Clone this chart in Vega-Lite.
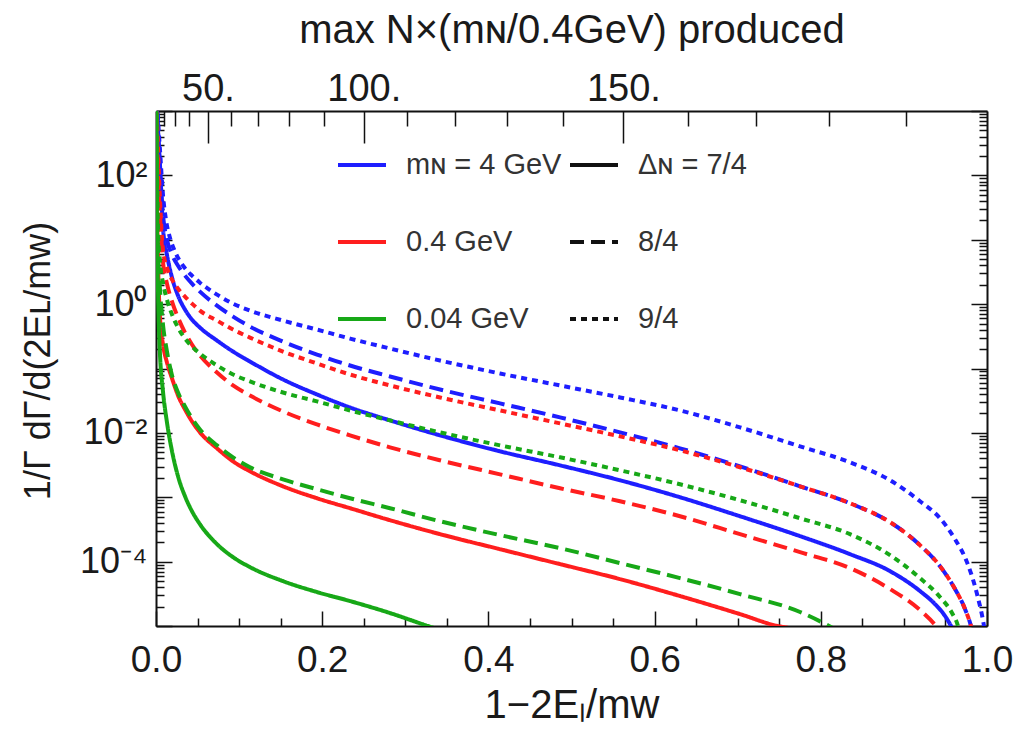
{
  "$schema": "https://vega.github.io/schema/vega-lite/v6.json",
  "width": 831,
  "height": 515,
  "autosize": "none",
  "padding": {"left": 156, "top": 111, "right": 31, "bottom": 115},
  "background": "white",
  "config": {
    "view": {"stroke": null},
    "font": "Liberation Sans",
    "axis": {
      "domainColor": "#111111", "domainWidth": 2,
      "tickColor": "#111111", "tickWidth": 1.5,
      "labelColor": "#1a1a1a", "titleColor": "#1a1a1a",
      "titleFontWeight": "normal", "grid": false,
      "labelOverlap": false, "labelFlush": false, "labelBound": false,
      "labelFont": "Liberation Sans", "titleFont": "Liberation Sans"
    },
    "legend": {
      "labelFont": "Liberation Sans", "labelFontSize": 29, "labelColor": "#333333",
      "symbolType": "stroke", "symbolSize": 2304, "symbolStrokeWidth": 4,
      "rowPadding": 36, "labelOffset": 18, "padding": 0, "title": null
    }
  },
  "datasets": {
    "curves": [
      {"mass": 4, "delta": "9/4", "x": 0.0003, "y": 2000},
      {"mass": 4, "delta": "9/4", "x": 0.0048, "y": 248},
      {"mass": 4, "delta": "9/4", "x": 0.0084, "y": 49.9},
      {"mass": 4, "delta": "9/4", "x": 0.012, "y": 20.4},
      {"mass": 4, "delta": "9/4", "x": 0.0168, "y": 10.74},
      {"mass": 4, "delta": "9/4", "x": 0.0229, "y": 6.52},
      {"mass": 4, "delta": "9/4", "x": 0.0325, "y": 3.95},
      {"mass": 4, "delta": "9/4", "x": 0.0433, "y": 2.77},
      {"mass": 4, "delta": "9/4", "x": 0.0529, "y": 2.154},
      {"mass": 4, "delta": "9/4", "x": 0.0734, "y": 1.404},
      {"mass": 4, "delta": "9/4", "x": 0.0927, "y": 1.018},
      {"mass": 4, "delta": "9/4", "x": 0.1131, "y": 0.793},
      {"mass": 4, "delta": "9/4", "x": 0.1528, "y": 0.555},
      {"mass": 4, "delta": "9/4", "x": 0.1937, "y": 0.4025},
      {"mass": 4, "delta": "9/4", "x": 0.2335, "y": 0.2918},
      {"mass": 4, "delta": "9/4", "x": 0.2816, "y": 0.2042},
      {"mass": 4, "delta": "9/4", "x": 0.3418, "y": 0.133},
      {"mass": 4, "delta": "9/4", "x": 0.414, "y": 0.0837},
      {"mass": 4, "delta": "9/4", "x": 0.4862, "y": 0.0545},
      {"mass": 4, "delta": "9/4", "x": 0.5584, "y": 0.0355},
      {"mass": 4, "delta": "9/4", "x": 0.6306, "y": 0.0223},
      {"mass": 4, "delta": "9/4", "x": 0.7028, "y": 0.01217},
      {"mass": 4, "delta": "9/4", "x": 0.775, "y": 0.00618},
      {"mass": 4, "delta": "9/4", "x": 0.8351, "y": 0.00349},
      {"mass": 4, "delta": "9/4", "x": 0.8833, "y": 0.001835},
      {"mass": 4, "delta": "9/4", "x": 0.9194, "y": 0.000867},
      {"mass": 4, "delta": "9/4", "x": 0.9434, "y": 0.000472},
      {"mass": 4, "delta": "9/4", "x": 0.9615, "y": 0.000223},
      {"mass": 4, "delta": "9/4", "x": 0.9759, "y": 0.0000982},
      {"mass": 4, "delta": "9/4", "x": 0.988, "y": 0.0000313},
      {"mass": 4, "delta": "9/4", "x": 0.9964, "y": 0.00001},
      {"mass": 4, "delta": "9/4", "x": 0.9988, "y": 0.0000063},

      {"mass": 4, "delta": "8/4", "x": 0.0003, "y": 2000},
      {"mass": 4, "delta": "8/4", "x": 0.0048, "y": 121.7},
      {"mass": 4, "delta": "8/4", "x": 0.0084, "y": 24.4},
      {"mass": 4, "delta": "8/4", "x": 0.0132, "y": 10},
      {"mass": 4, "delta": "8/4", "x": 0.0193, "y": 5.85},
      {"mass": 4, "delta": "8/4", "x": 0.0265, "y": 3.95},
      {"mass": 4, "delta": "8/4", "x": 0.0349, "y": 2.77},
      {"mass": 4, "delta": "8/4", "x": 0.0433, "y": 2.079},
      {"mass": 4, "delta": "8/4", "x": 0.0529, "y": 1.562},
      {"mass": 4, "delta": "8/4", "x": 0.0734, "y": 0.948},
      {"mass": 4, "delta": "8/4", "x": 0.0927, "y": 0.64},
      {"mass": 4, "delta": "8/4", "x": 0.1131, "y": 0.448},
      {"mass": 4, "delta": "8/4", "x": 0.1528, "y": 0.2622},
      {"mass": 4, "delta": "8/4", "x": 0.1937, "y": 0.1649},
      {"mass": 4, "delta": "8/4", "x": 0.2335, "y": 0.1113},
      {"mass": 4, "delta": "8/4", "x": 0.2816, "y": 0.0752},
      {"mass": 4, "delta": "8/4", "x": 0.3418, "y": 0.0472},
      {"mass": 4, "delta": "8/4", "x": 0.414, "y": 0.0287},
      {"mass": 4, "delta": "8/4", "x": 0.4862, "y": 0.0174},
      {"mass": 4, "delta": "8/4", "x": 0.5584, "y": 0.01018},
      {"mass": 4, "delta": "8/4", "x": 0.6306, "y": 0.00575},
      {"mass": 4, "delta": "8/4", "x": 0.7028, "y": 0.00302},
      {"mass": 4, "delta": "8/4", "x": 0.775, "y": 0.00148},
      {"mass": 4, "delta": "8/4", "x": 0.8351, "y": 0.000807},
      {"mass": 4, "delta": "8/4", "x": 0.8833, "y": 0.00041},
      {"mass": 4, "delta": "8/4", "x": 0.9194, "y": 0.00018},
      {"mass": 4, "delta": "8/4", "x": 0.9434, "y": 0.0000852},
      {"mass": 4, "delta": "8/4", "x": 0.9615, "y": 0.0000375},
      {"mass": 4, "delta": "8/4", "x": 0.9735, "y": 0.0000184},
      {"mass": 4, "delta": "8/4", "x": 0.9807, "y": 0.00001},
      {"mass": 4, "delta": "8/4", "x": 0.9844, "y": 0.0000063},

      {"mass": 4, "delta": "7/4", "x": 0.0003, "y": 2000},
      {"mass": 4, "delta": "7/4", "x": 0.0024, "y": 507},
      {"mass": 4, "delta": "7/4", "x": 0.0048, "y": 145.5},
      {"mass": 4, "delta": "7/4", "x": 0.0084, "y": 15.35},
      {"mass": 4, "delta": "7/4", "x": 0.0132, "y": 5.85},
      {"mass": 4, "delta": "7/4", "x": 0.0193, "y": 2.58},
      {"mass": 4, "delta": "7/4", "x": 0.0265, "y": 1.354},
      {"mass": 4, "delta": "7/4", "x": 0.0349, "y": 0.822},
      {"mass": 4, "delta": "7/4", "x": 0.0433, "y": 0.575},
      {"mass": 4, "delta": "7/4", "x": 0.0529, "y": 0.432},
      {"mass": 4, "delta": "7/4", "x": 0.0734, "y": 0.2717},
      {"mass": 4, "delta": "7/4", "x": 0.0927, "y": 0.1835},
      {"mass": 4, "delta": "7/4", "x": 0.1131, "y": 0.1284},
      {"mass": 4, "delta": "7/4", "x": 0.1528, "y": 0.0676},
      {"mass": 4, "delta": "7/4", "x": 0.1937, "y": 0.0395},
      {"mass": 4, "delta": "7/4", "x": 0.2335, "y": 0.0248},
      {"mass": 4, "delta": "7/4", "x": 0.2816, "y": 0.01562},
      {"mass": 4, "delta": "7/4", "x": 0.3418, "y": 0.00915},
      {"mass": 4, "delta": "7/4", "x": 0.414, "y": 0.00517},
      {"mass": 4, "delta": "7/4", "x": 0.4862, "y": 0.00313},
      {"mass": 4, "delta": "7/4", "x": 0.5584, "y": 0.001835},
      {"mass": 4, "delta": "7/4", "x": 0.6306, "y": 0.001},
      {"mass": 4, "delta": "7/4", "x": 0.7028, "y": 0.000507},
      {"mass": 4, "delta": "7/4", "x": 0.775, "y": 0.000249},
      {"mass": 4, "delta": "7/4", "x": 0.8351, "y": 0.0001307},
      {"mass": 4, "delta": "7/4", "x": 0.8833, "y": 0.0000712},
      {"mass": 4, "delta": "7/4", "x": 0.9194, "y": 0.0000349},
      {"mass": 4, "delta": "7/4", "x": 0.9374, "y": 0.0000219},
      {"mass": 4, "delta": "7/4", "x": 0.9495, "y": 0.0000143},
      {"mass": 4, "delta": "7/4", "x": 0.9567, "y": 0.00001},
      {"mass": 4, "delta": "7/4", "x": 0.9615, "y": 0.0000075},

      {"mass": 0.4, "delta": "9/4", "x": 0.0003, "y": 2000},
      {"mass": 0.4, "delta": "9/4", "x": 0.0048, "y": 41.7},
      {"mass": 0.4, "delta": "9/4", "x": 0.0084, "y": 7},
      {"mass": 0.4, "delta": "9/4", "x": 0.0132, "y": 3.68},
      {"mass": 0.4, "delta": "9/4", "x": 0.0193, "y": 2.4},
      {"mass": 0.4, "delta": "9/4", "x": 0.0265, "y": 1.739},
      {"mass": 0.4, "delta": "9/4", "x": 0.0349, "y": 1.307},
      {"mass": 0.4, "delta": "9/4", "x": 0.0433, "y": 1.018},
      {"mass": 0.4, "delta": "9/4", "x": 0.0529, "y": 0.793},
      {"mass": 0.4, "delta": "9/4", "x": 0.0734, "y": 0.555},
      {"mass": 0.4, "delta": "9/4", "x": 0.0927, "y": 0.4025},
      {"mass": 0.4, "delta": "9/4", "x": 0.1131, "y": 0.3024},
      {"mass": 0.4, "delta": "9/4", "x": 0.1528, "y": 0.1835},
      {"mass": 0.4, "delta": "9/4", "x": 0.1937, "y": 0.1196},
      {"mass": 0.4, "delta": "9/4", "x": 0.2335, "y": 0.0807},
      {"mass": 0.4, "delta": "9/4", "x": 0.2816, "y": 0.0545},
      {"mass": 0.4, "delta": "9/4", "x": 0.3418, "y": 0.0355},
      {"mass": 0.4, "delta": "9/4", "x": 0.414, "y": 0.0223},
      {"mass": 0.4, "delta": "9/4", "x": 0.4862, "y": 0.01404},
      {"mass": 0.4, "delta": "9/4", "x": 0.5584, "y": 0.00883},
      {"mass": 0.4, "delta": "9/4", "x": 0.6306, "y": 0.00535},
      {"mass": 0.4, "delta": "9/4", "x": 0.7028, "y": 0.00292},
      {"mass": 0.4, "delta": "9/4", "x": 0.775, "y": 0.00148},
      {"mass": 0.4, "delta": "9/4", "x": 0.8351, "y": 0.000807},
      {"mass": 0.4, "delta": "9/4", "x": 0.8833, "y": 0.00041},
      {"mass": 0.4, "delta": "9/4", "x": 0.9194, "y": 0.00018},
      {"mass": 0.4, "delta": "9/4", "x": 0.9434, "y": 0.0000852},
      {"mass": 0.4, "delta": "9/4", "x": 0.9615, "y": 0.0000375},
      {"mass": 0.4, "delta": "9/4", "x": 0.9735, "y": 0.0000184},
      {"mass": 0.4, "delta": "9/4", "x": 0.9807, "y": 0.00001},
      {"mass": 0.4, "delta": "9/4", "x": 0.9844, "y": 0.0000063},

      {"mass": 0.4, "delta": "8/4", "x": 0.0003, "y": 2000},
      {"mass": 0.4, "delta": "8/4", "x": 0.0024, "y": 121.7},
      {"mass": 0.4, "delta": "8/4", "x": 0.0048, "y": 24.4},
      {"mass": 0.4, "delta": "8/4", "x": 0.0084, "y": 4.56},
      {"mass": 0.4, "delta": "8/4", "x": 0.0132, "y": 2.079},
      {"mass": 0.4, "delta": "8/4", "x": 0.0193, "y": 1.093},
      {"mass": 0.4, "delta": "8/4", "x": 0.0265, "y": 0.618},
      {"mass": 0.4, "delta": "8/4", "x": 0.0349, "y": 0.361},
      {"mass": 0.4, "delta": "8/4", "x": 0.0433, "y": 0.2356},
      {"mass": 0.4, "delta": "8/4", "x": 0.0529, "y": 0.1591},
      {"mass": 0.4, "delta": "8/4", "x": 0.0734, "y": 0.0867},
      {"mass": 0.4, "delta": "8/4", "x": 0.0927, "y": 0.0545},
      {"mass": 0.4, "delta": "8/4", "x": 0.1131, "y": 0.0381},
      {"mass": 0.4, "delta": "8/4", "x": 0.1528, "y": 0.02154},
      {"mass": 0.4, "delta": "8/4", "x": 0.1937, "y": 0.01354},
      {"mass": 0.4, "delta": "8/4", "x": 0.2335, "y": 0.00915},
      {"mass": 0.4, "delta": "8/4", "x": 0.2816, "y": 0.00596},
      {"mass": 0.4, "delta": "8/4", "x": 0.3418, "y": 0.00375},
      {"mass": 0.4, "delta": "8/4", "x": 0.414, "y": 0.00227},
      {"mass": 0.4, "delta": "8/4", "x": 0.4862, "y": 0.001379},
      {"mass": 0.4, "delta": "8/4", "x": 0.5584, "y": 0.000867},
      {"mass": 0.4, "delta": "8/4", "x": 0.6306, "y": 0.000507},
      {"mass": 0.4, "delta": "8/4", "x": 0.7028, "y": 0.000267},
      {"mass": 0.4, "delta": "8/4", "x": 0.775, "y": 0.0001404},
      {"mass": 0.4, "delta": "8/4", "x": 0.8351, "y": 0.0000793},
      {"mass": 0.4, "delta": "8/4", "x": 0.8833, "y": 0.0000375},
      {"mass": 0.4, "delta": "8/4", "x": 0.9194, "y": 0.0000177},
      {"mass": 0.4, "delta": "8/4", "x": 0.9386, "y": 0.00001},
      {"mass": 0.4, "delta": "8/4", "x": 0.9459, "y": 0.0000075},

      {"mass": 0.4, "delta": "7/4", "x": 0.0003, "y": 2000},
      {"mass": 0.4, "delta": "7/4", "x": 0.0012, "y": 41.7},
      {"mass": 0.4, "delta": "7/4", "x": 0.0024, "y": 4.9},
      {"mass": 0.4, "delta": "7/4", "x": 0.0048, "y": 0.618},
      {"mass": 0.4, "delta": "7/4", "x": 0.0084, "y": 0.2356},
      {"mass": 0.4, "delta": "7/4", "x": 0.0132, "y": 0.1239},
      {"mass": 0.4, "delta": "7/4", "x": 0.0193, "y": 0.07},
      {"mass": 0.4, "delta": "7/4", "x": 0.0265, "y": 0.0381},
      {"mass": 0.4, "delta": "7/4", "x": 0.0349, "y": 0.0231},
      {"mass": 0.4, "delta": "7/4", "x": 0.0433, "y": 0.01508},
      {"mass": 0.4, "delta": "7/4", "x": 0.0529, "y": 0.01018},
      {"mass": 0.4, "delta": "7/4", "x": 0.0734, "y": 0.00575},
      {"mass": 0.4, "delta": "7/4", "x": 0.0927, "y": 0.00361},
      {"mass": 0.4, "delta": "7/4", "x": 0.1131, "y": 0.00253},
      {"mass": 0.4, "delta": "7/4", "x": 0.1528, "y": 0.00148},
      {"mass": 0.4, "delta": "7/4", "x": 0.1937, "y": 0.000965},
      {"mass": 0.4, "delta": "7/4", "x": 0.2335, "y": 0.000676},
      {"mass": 0.4, "delta": "7/4", "x": 0.2816, "y": 0.00044},
      {"mass": 0.4, "delta": "7/4", "x": 0.3418, "y": 0.000267},
      {"mass": 0.4, "delta": "7/4", "x": 0.414, "y": 0.000156},
      {"mass": 0.4, "delta": "7/4", "x": 0.4862, "y": 0.0000915},
      {"mass": 0.4, "delta": "7/4", "x": 0.5584, "y": 0.0000535},
      {"mass": 0.4, "delta": "7/4", "x": 0.6306, "y": 0.0000292},
      {"mass": 0.4, "delta": "7/4", "x": 0.7028, "y": 0.0000153},
      {"mass": 0.4, "delta": "7/4", "x": 0.7485, "y": 0.00001},
      {"mass": 0.4, "delta": "7/4", "x": 0.7629, "y": 0.0000093},

      {"mass": 0.04, "delta": "9/4", "x": 0.0003, "y": 2000},
      {"mass": 0.04, "delta": "9/4", "x": 0.0024, "y": 14.3},
      {"mass": 0.04, "delta": "9/4", "x": 0.0048, "y": 4.56},
      {"mass": 0.04, "delta": "9/4", "x": 0.0084, "y": 2.154},
      {"mass": 0.04, "delta": "9/4", "x": 0.0132, "y": 1.174},
      {"mass": 0.04, "delta": "9/4", "x": 0.0193, "y": 0.688},
      {"mass": 0.04, "delta": "9/4", "x": 0.0265, "y": 0.432},
      {"mass": 0.04, "delta": "9/4", "x": 0.0349, "y": 0.2918},
      {"mass": 0.04, "delta": "9/4", "x": 0.0433, "y": 0.2194},
      {"mass": 0.04, "delta": "9/4", "x": 0.0529, "y": 0.1708},
      {"mass": 0.04, "delta": "9/4", "x": 0.0734, "y": 0.1113},
      {"mass": 0.04, "delta": "9/4", "x": 0.0927, "y": 0.0807},
      {"mass": 0.04, "delta": "9/4", "x": 0.1131, "y": 0.0629},
      {"mass": 0.04, "delta": "9/4", "x": 0.1528, "y": 0.0424},
      {"mass": 0.04, "delta": "9/4", "x": 0.1937, "y": 0.0308},
      {"mass": 0.04, "delta": "9/4", "x": 0.2335, "y": 0.0223},
      {"mass": 0.04, "delta": "9/4", "x": 0.2816, "y": 0.01562},
      {"mass": 0.04, "delta": "9/4", "x": 0.3418, "y": 0.01018},
      {"mass": 0.04, "delta": "9/4", "x": 0.414, "y": 0.0064},
      {"mass": 0.04, "delta": "9/4", "x": 0.4862, "y": 0.00417},
      {"mass": 0.04, "delta": "9/4", "x": 0.5584, "y": 0.00262},
      {"mass": 0.04, "delta": "9/4", "x": 0.6306, "y": 0.00159},
      {"mass": 0.04, "delta": "9/4", "x": 0.7028, "y": 0.000898},
      {"mass": 0.04, "delta": "9/4", "x": 0.775, "y": 0.000472},
      {"mass": 0.04, "delta": "9/4", "x": 0.8351, "y": 0.000267},
      {"mass": 0.04, "delta": "9/4", "x": 0.8833, "y": 0.000126},
      {"mass": 0.04, "delta": "9/4", "x": 0.9194, "y": 0.0000555},
      {"mass": 0.04, "delta": "9/4", "x": 0.9434, "y": 0.0000282},
      {"mass": 0.04, "delta": "9/4", "x": 0.9579, "y": 0.0000159},
      {"mass": 0.04, "delta": "9/4", "x": 0.9651, "y": 0.00001},
      {"mass": 0.04, "delta": "9/4", "x": 0.9687, "y": 0.0000063},

      {"mass": 0.04, "delta": "8/4", "x": 0.0003, "y": 2000},
      {"mass": 0.04, "delta": "8/4", "x": 0.0012, "y": 41.7},
      {"mass": 0.04, "delta": "8/4", "x": 0.0024, "y": 7},
      {"mass": 0.04, "delta": "8/4", "x": 0.0048, "y": 1.678},
      {"mass": 0.04, "delta": "8/4", "x": 0.0084, "y": 0.481},
      {"mass": 0.04, "delta": "8/4", "x": 0.0132, "y": 0.1835},
      {"mass": 0.04, "delta": "8/4", "x": 0.0193, "y": 0.0779},
      {"mass": 0.04, "delta": "8/4", "x": 0.0265, "y": 0.0424},
      {"mass": 0.04, "delta": "8/4", "x": 0.0349, "y": 0.02576},
      {"mass": 0.04, "delta": "8/4", "x": 0.0433, "y": 0.01678},
      {"mass": 0.04, "delta": "8/4", "x": 0.0529, "y": 0.01133},
      {"mass": 0.04, "delta": "8/4", "x": 0.0734, "y": 0.0064},
      {"mass": 0.04, "delta": "8/4", "x": 0.0927, "y": 0.00417},
      {"mass": 0.04, "delta": "8/4", "x": 0.1131, "y": 0.00292},
      {"mass": 0.04, "delta": "8/4", "x": 0.1528, "y": 0.0019},
      {"mass": 0.04, "delta": "8/4", "x": 0.1937, "y": 0.00133},
      {"mass": 0.04, "delta": "8/4", "x": 0.2335, "y": 0.000965},
      {"mass": 0.04, "delta": "8/4", "x": 0.2816, "y": 0.000676},
      {"mass": 0.04, "delta": "8/4", "x": 0.3418, "y": 0.000424},
      {"mass": 0.04, "delta": "8/4", "x": 0.414, "y": 0.000258},
      {"mass": 0.04, "delta": "8/4", "x": 0.4862, "y": 0.000162},
      {"mass": 0.04, "delta": "8/4", "x": 0.5584, "y": 0.0000948},
      {"mass": 0.04, "delta": "8/4", "x": 0.6306, "y": 0.0000555},
      {"mass": 0.04, "delta": "8/4", "x": 0.7028, "y": 0.0000313},
      {"mass": 0.04, "delta": "8/4", "x": 0.775, "y": 0.0000165},
      {"mass": 0.04, "delta": "8/4", "x": 0.8099, "y": 0.00001},
      {"mass": 0.04, "delta": "8/4", "x": 0.8183, "y": 0.0000087},

      {"mass": 0.04, "delta": "7/4", "x": 0.0003, "y": 2000},
      {"mass": 0.04, "delta": "7/4", "x": 0.0012, "y": 14.3},
      {"mass": 0.04, "delta": "7/4", "x": 0.0024, "y": 1.678},
      {"mass": 0.04, "delta": "7/4", "x": 0.0036, "y": 0.4025},
      {"mass": 0.04, "delta": "7/4", "x": 0.0048, "y": 0.1649},
      {"mass": 0.04, "delta": "7/4", "x": 0.0084, "y": 0.044},
      {"mass": 0.04, "delta": "7/4", "x": 0.0132, "y": 0.01455},
      {"mass": 0.04, "delta": "7/4", "x": 0.0193, "y": 0.00517},
      {"mass": 0.04, "delta": "7/4", "x": 0.0265, "y": 0.002116},
      {"mass": 0.04, "delta": "7/4", "x": 0.0349, "y": 0.001036},
      {"mass": 0.04, "delta": "7/4", "x": 0.0433, "y": 0.000607},
      {"mass": 0.04, "delta": "7/4", "x": 0.0529, "y": 0.000381},
      {"mass": 0.04, "delta": "7/4", "x": 0.0734, "y": 0.000187},
      {"mass": 0.04, "delta": "7/4", "x": 0.0927, "y": 0.0001174},
      {"mass": 0.04, "delta": "7/4", "x": 0.1131, "y": 0.0000822},
      {"mass": 0.04, "delta": "7/4", "x": 0.1528, "y": 0.0000498},
      {"mass": 0.04, "delta": "7/4", "x": 0.1937, "y": 0.0000337},
      {"mass": 0.04, "delta": "7/4", "x": 0.2335, "y": 0.0000244},
      {"mass": 0.04, "delta": "7/4", "x": 0.2816, "y": 0.0000159},
      {"mass": 0.04, "delta": "7/4", "x": 0.3273, "y": 0.00001},
      {"mass": 0.04, "delta": "7/4", "x": 0.3418, "y": 0.0000087}
    ],
    "frame": [
      {"x": 0, "n": 0, "y": 0.00001},
      {"x": 1, "n": 200, "y": 1000}
    ]
  },
  "layer": [
    {
      "data": {"name": "curves"},
      "mark": {"type": "line", "clip": true, "strokeWidth": 4, "interpolate": "monotone"},
      "encoding": {
        "x": {
          "field": "x", "type": "quantitative",
          "scale": {"domain": [0, 1], "nice": false, "zero": false},
          "axis": {
            "orient": "bottom",
            "values": [0, 0.2, 0.4, 0.6, 0.8, 1],
            "format": ".1f",
            "ticks": false, "tickSize": 0,
            "labelPadding": 16,
            "labelFontSize": 37,
            "title": "1−2Eₗ/mᴡ",
            "titleFontSize": 40,
            "titleX": 415.5,
            "titleY": 79,
            "titleBaseline": "middle"
          }
        },
        "y": {
          "field": "y", "type": "quantitative",
          "scale": {"type": "log", "domain": [0.00001, 1000], "nice": false},
          "axis": {
            "orient": "left",
            "values": [0.0001, 0.01, 1, 100],
            "ticks": false, "tickSize": 0,
            "labelExpr": "datum.value == 100 ? '10²' : datum.value == 1 ? '10⁰' : datum.value == 0.01 ? '10⁻²' : '10⁻⁴'",
            "labelPadding": 9,
            "labelFontSize": 36,
            "title": "1/Γ dΓ/d(2Eʟ/mᴡ)",
            "titleFontSize": 36,
            "titleX": -118,
            "titleY": 249.5,
            "titleBaseline": "middle"
          }
        },
        "color": {
          "field": "mass", "type": "nominal",
          "scale": {"domain": [4, 0.4, 0.04], "range": ["#1e1eff", "#ff1e1e", "#17a817"]},
          "legend": {
            "orient": "none", "legendX": 180, "legendY": 28,
            "labelExpr": "datum.value == 4 ? 'mɴ = 4 GeV' : datum.label + ' GeV'"
          }
        },
        "strokeDash": {
          "field": "delta", "type": "nominal",
          "scale": {"domain": ["7/4", "8/4", "9/4"], "range": [[1, 0], [14, 7], [6, 5]]},
          "legend": {
            "orient": "none", "legendX": 412, "legendY": 28,
            "symbolStrokeColor": "#111111",
            "labelExpr": "datum.value == '7/4' ? 'Δɴ = 7/4' : datum.label"
          }
        }
      }
    },
    {
      "data": {"name": "frame"},
      "mark": {"type": "point", "opacity": 0},
      "encoding": {
        "x": {
          "field": "x", "type": "quantitative",
          "scale": {"domain": [0, 1], "nice": false, "zero": false},
          "axis": {"orient": "bottom", "values": [0, 0.2, 0.4, 0.6, 0.8, 1], "offset": -15, "tickSize": 15, "labels": false, "domain": false, "title": null}
        },
        "y": {
          "field": "y", "type": "quantitative",
          "scale": {"type": "log", "domain": [0.00001, 1000], "nice": false},
          "axis": {"orient": "left", "values": [0.00001, 0.0001, 0.001, 0.01, 0.1, 1, 10, 100, 1000], "offset": -16, "tickSize": 16, "labels": false, "domain": false, "title": null}
        }
      }
    },
    {
      "data": {"name": "frame"},
      "mark": {"type": "point", "opacity": 0},
      "encoding": {
        "x": {
          "field": "x", "type": "quantitative",
          "scale": {"domain": [0, 1], "nice": false, "zero": false},
          "axis": {"orient": "bottom", "values": [0.05, 0.1, 0.15, 0.25, 0.3, 0.35, 0.45, 0.5, 0.55, 0.65, 0.7, 0.75, 0.85, 0.9, 0.95], "offset": -8, "tickSize": 8, "labels": false, "domain": false, "title": null}
        },
        "y": {
          "field": "y", "type": "quantitative",
          "scale": {"type": "log", "domain": [0.00001, 1000], "nice": false},
          "axis": {
            "orient": "left",
            "values": [0.00002, 0.00003, 0.00004, 0.00005, 0.00006, 0.00007, 0.00008, 0.00009,
                       0.0002, 0.0003, 0.0004, 0.0005, 0.0006, 0.0007, 0.0008, 0.0009,
                       0.002, 0.003, 0.004, 0.005, 0.006, 0.007, 0.008, 0.009,
                       0.02, 0.03, 0.04, 0.05, 0.06, 0.07, 0.08, 0.09,
                       0.2, 0.3, 0.4, 0.5, 0.6, 0.7, 0.8, 0.9,
                       2, 3, 4, 5, 6, 7, 8, 9,
                       20, 30, 40, 50, 60, 70, 80, 90,
                       200, 300, 400, 500, 600, 700, 800, 900],
            "offset": -8, "tickSize": 8, "labels": false, "domain": false, "title": null
          }
        }
      }
    },
    {
      "data": {"name": "frame"},
      "mark": {"type": "point", "opacity": 0},
      "encoding": {
        "x": {
          "field": "n", "type": "quantitative",
          "scale": {"type": "pow", "exponent": 2, "domain": [0, 200], "nice": false, "zero": false},
          "axis": {
            "orient": "top",
            "values": [50, 100, 150],
            "ticks": false, "tickSize": 0,
            "labelExpr": "datum.value + '.'",
            "labelBaseline": "alphabetic",
            "labelPadding": 11,
            "labelFontSize": 38,
            "title": "max N×(mɴ/0.4GeV) produced",
            "titleFontSize": 40,
            "titleX": 415.5,
            "titleY": -81,
            "titleBaseline": "middle"
          }
        },
        "y": {
          "field": "y", "type": "quantitative",
          "scale": {"type": "log", "domain": [0.00001, 1000], "nice": false},
          "axis": {"orient": "right", "values": [1], "ticks": false, "labels": false, "title": null}
        }
      }
    },
    {
      "data": {"name": "frame"},
      "mark": {"type": "point", "opacity": 0},
      "encoding": {
        "x": {
          "field": "n", "type": "quantitative",
          "scale": {"type": "pow", "exponent": 2, "domain": [0, 200], "nice": false, "zero": false},
          "axis": {"orient": "top", "values": [50, 100, 150], "offset": -32, "tickSize": 32, "labels": false, "domain": false, "title": null}
        },
        "y": {
          "field": "y", "type": "quantitative",
          "scale": {"type": "log", "domain": [0.00001, 1000], "nice": false},
          "axis": {"orient": "right", "values": [0.00001, 0.0001, 0.001, 0.01, 0.1, 1, 10, 100, 1000], "offset": -16, "tickSize": 16, "labels": false, "domain": false, "title": null}
        }
      }
    },
    {
      "data": {"name": "frame"},
      "mark": {"type": "point", "opacity": 0},
      "encoding": {
        "x": {
          "field": "n", "type": "quantitative",
          "scale": {"type": "pow", "exponent": 2, "domain": [0, 200], "nice": false, "zero": false},
          "axis": {"orient": "top", "values": [10, 20, 30, 40, 60, 70, 80, 90, 110, 120, 130, 140, 160, 170, 180, 190], "offset": -15, "tickSize": 15, "labels": false, "domain": false, "title": null}
        },
        "y": {
          "field": "y", "type": "quantitative",
          "scale": {"type": "log", "domain": [0.00001, 1000], "nice": false},
          "axis": {
            "orient": "right",
            "values": [0.00002, 0.00003, 0.00004, 0.00005, 0.00006, 0.00007, 0.00008, 0.00009,
                       0.0002, 0.0003, 0.0004, 0.0005, 0.0006, 0.0007, 0.0008, 0.0009,
                       0.002, 0.003, 0.004, 0.005, 0.006, 0.007, 0.008, 0.009,
                       0.02, 0.03, 0.04, 0.05, 0.06, 0.07, 0.08, 0.09,
                       0.2, 0.3, 0.4, 0.5, 0.6, 0.7, 0.8, 0.9,
                       2, 3, 4, 5, 6, 7, 8, 9,
                       20, 30, 40, 50, 60, 70, 80, 90,
                       200, 300, 400, 500, 600, 700, 800, 900],
            "offset": -8, "tickSize": 8, "labels": false, "domain": false, "title": null
          }
        }
      }
    }
  ],
  "resolve": {
    "scale": {"x": "independent"},
    "axis": {"x": "independent", "y": "independent"}
  }
}
